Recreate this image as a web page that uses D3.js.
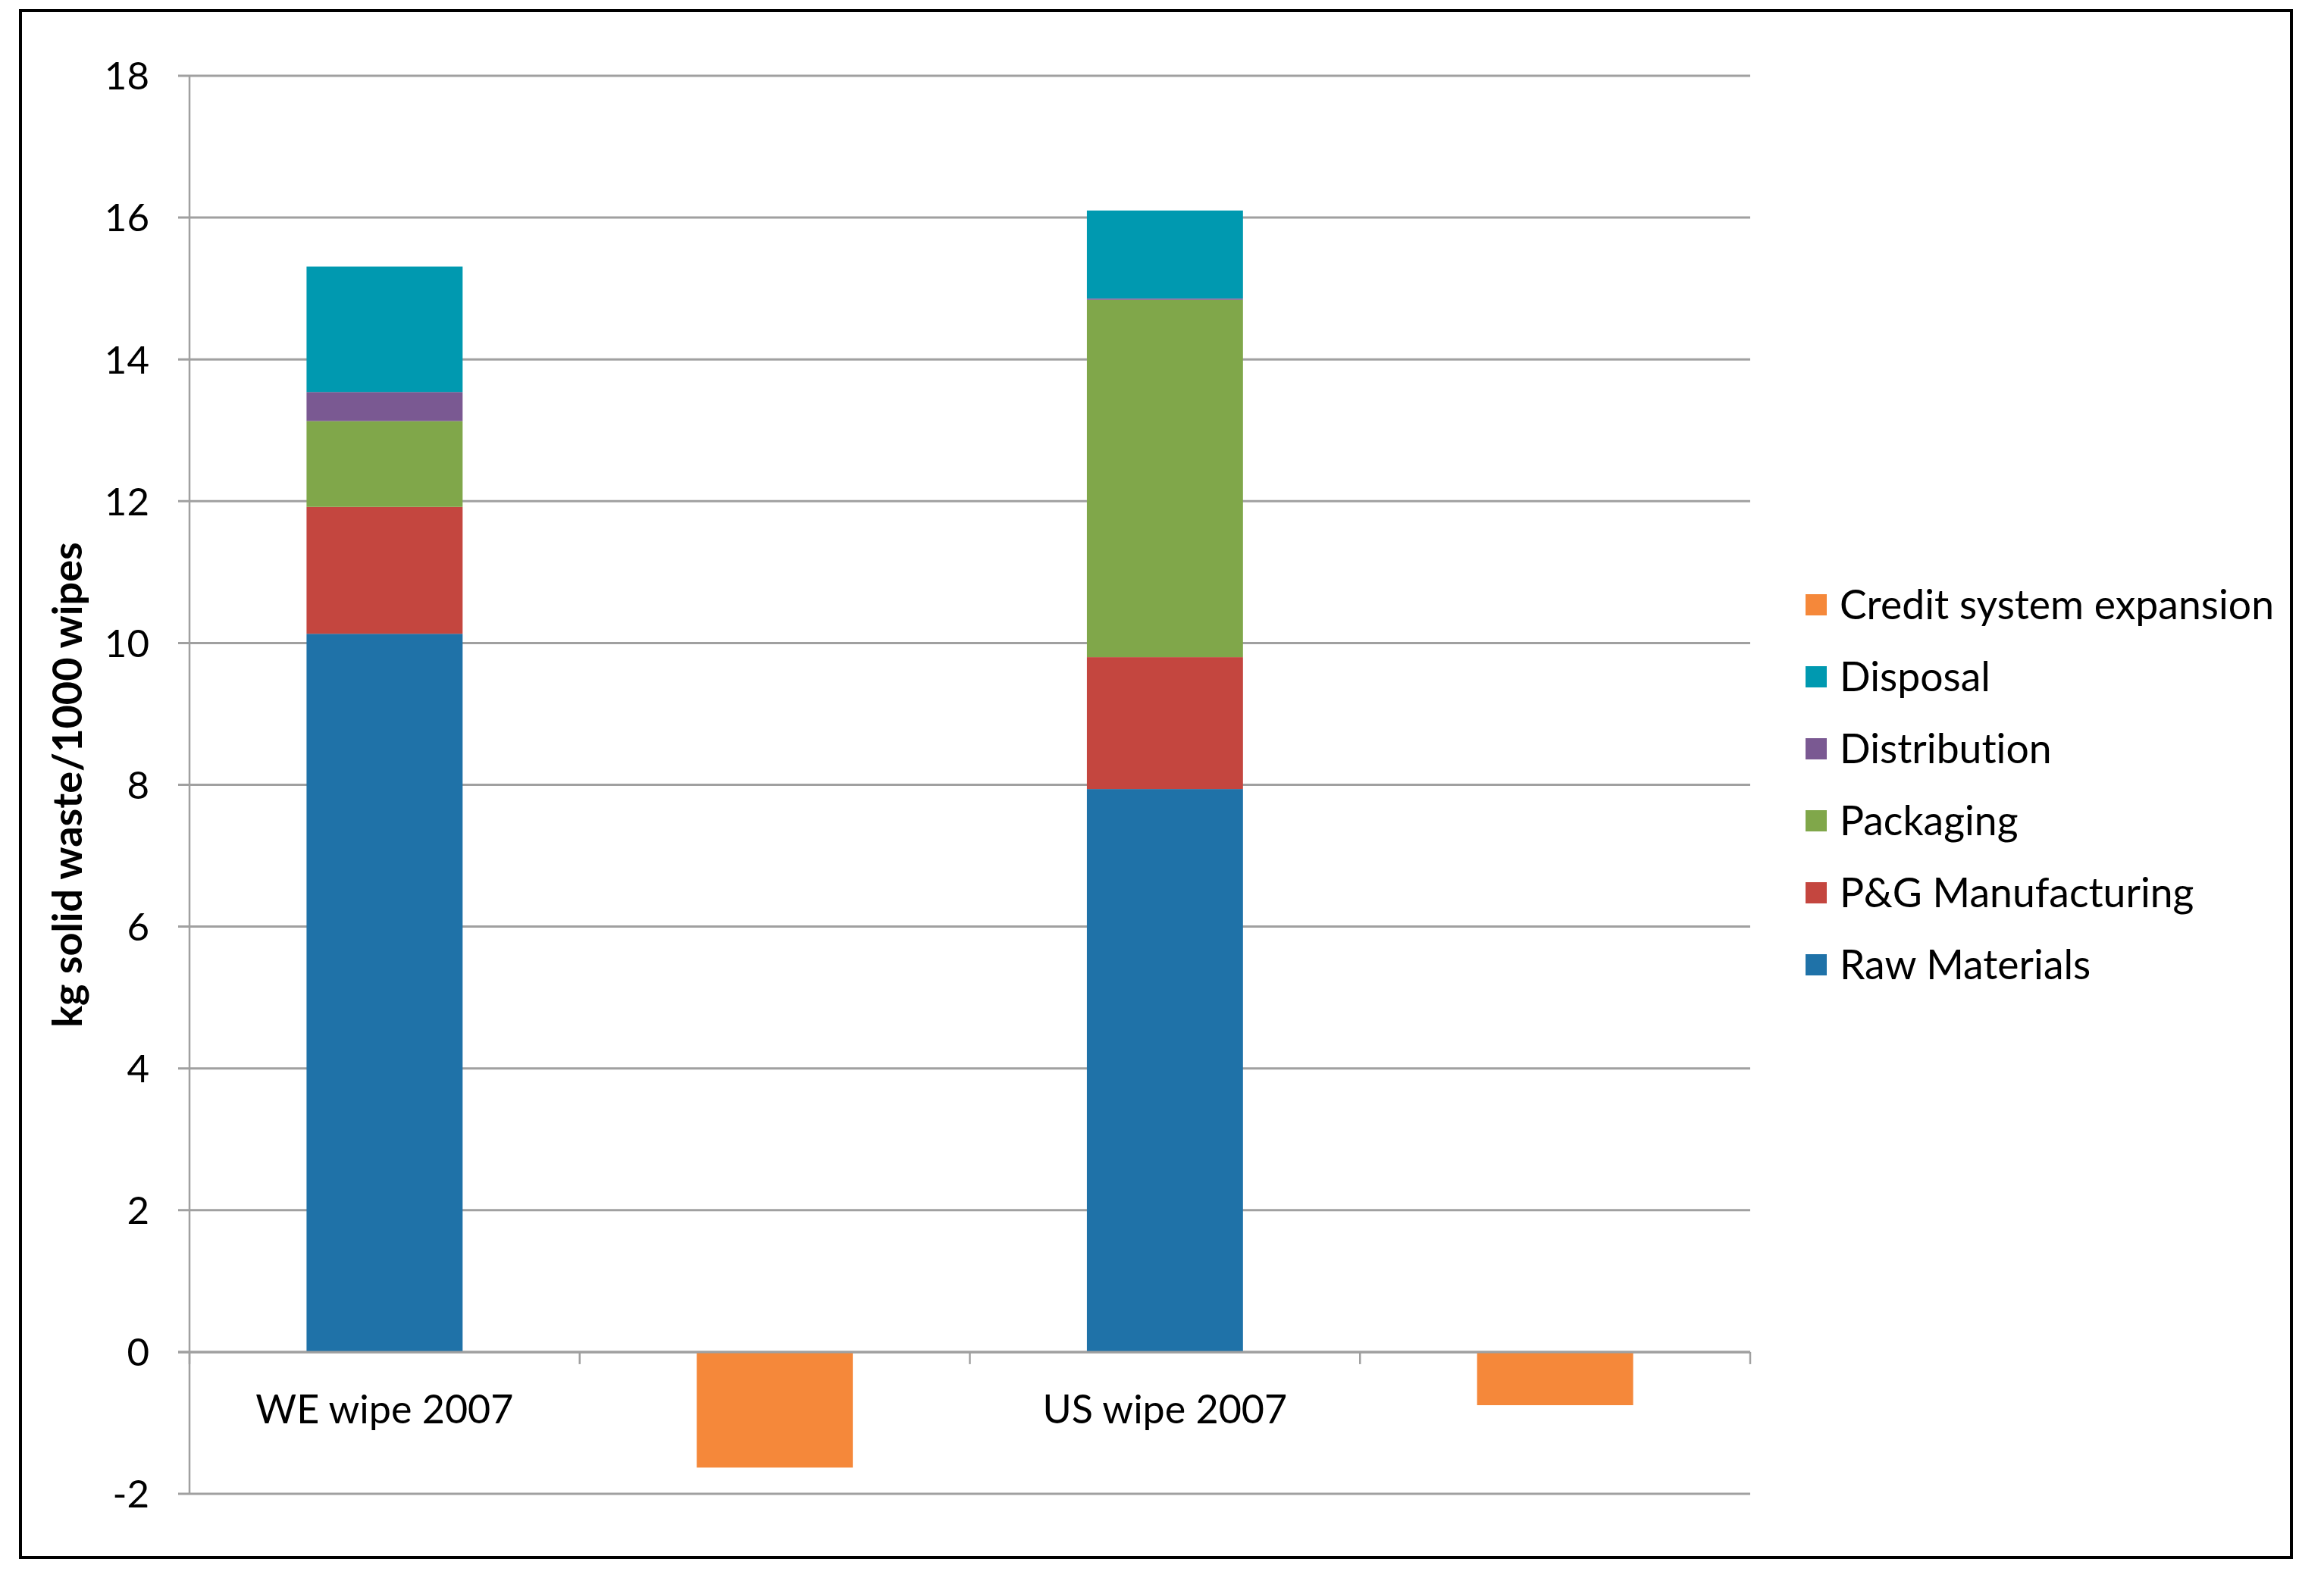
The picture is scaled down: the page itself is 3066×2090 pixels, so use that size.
<!DOCTYPE html>
<html>
<head>
<meta charset="utf-8">
<script src="https://cdn.jsdelivr.net/npm/d3@7"></script>
<style>
  html, body { margin: 0; padding: 0; background: #ffffff; }
  svg { display: block; }
  text { font-family: Lato, "Open Sans", sans-serif; fill: #000; font-variant-ligatures: none; }
</style>
</head>
<body>
<svg id="chart" width="3066" height="2090"></svg>
<script>
// ---- data ----
const categories = ["WE wipe 2007", "WE credit", "US wipe 2007", "US credit"];
const categoryLabels = ["WE wipe 2007", "", "US wipe 2007", ""];
const seriesNames = ["Raw Materials", "P&G Manufacturing", "Packaging", "Distribution", "Disposal", "Credit system expansion"];
const rawMaterials = [10.13, 0, 7.94, 0];
const pgManufacturing = [1.79, 0, 1.86, 0];
const packaging = [1.21, 0, 5.04, 0];
const distribution = [0.41, 0, 0.02, 0];
const disposal = [1.77, 0, 1.24, 0];
const creditSystemExpansion = [0, -1.63, 0, -0.75];
const yTicks = [-2, 0, 2, 4, 6, 8, 10, 12, 14, 16, 18];
const yTickLabels = ["-2", "0", "2", "4", "6", "8", "10", "12", "14", "16", "18"];
const legendOrder = ["Credit system expansion", "Disposal", "Distribution", "Packaging", "P&G Manufacturing", "Raw Materials"];
const colors = {
  "Raw Materials": "#1f72a8",
  "P&G Manufacturing": "#c4463f",
  "Packaging": "#80a74a",
  "Distribution": "#7a5992",
  "Disposal": "#0099b0",
  "Credit system expansion": "#f5883a"
};

// ---- table ----
const seriesValues = [rawMaterials, pgManufacturing, packaging, distribution, disposal, creditSystemExpansion];
const table = categories.map((c, i) => {
  const row = { category: c };
  seriesNames.forEach((s, k) => row[s] = seriesValues[k][i]);
  return row;
});

const svg = d3.select("#chart");

// frame
svg.append("rect").attr("x", 27).attr("y", 14).attr("width", 2996).attr("height", 2041)
  .attr("fill", "#fff").attr("stroke", "#000").attr("stroke-width", 4);

const x = d3.scaleBand().domain(categories).range([250, 2309]).paddingInner(0).paddingOuter(0);
const y = d3.scaleLinear().domain([-2, 18]).range([1971, 100]);

const gridColor = "#a0a0a0";

// gridlines + y ticks
const yAxis = svg.append("g").attr("transform", "translate(250,0)")
  .call(d3.axisLeft(y).tickValues(yTicks).tickSize(15).tickFormat((d, i) => yTickLabels[i]));
yAxis.select(".domain").remove();
yAxis.selectAll(".tick line").remove();
yAxis.selectAll(".tick text").attr("x", -53).attr("font-size", 51).attr("font-family", "Lato, sans-serif").attr("fill", "#000").attr("dy", "0.35em");

svg.append("g").selectAll("line").data(yTicks).join("line")
  .attr("x1", 235).attr("x2", 2309)
  .attr("y1", d => y(d)).attr("y2", d => y(d))
  .attr("stroke", gridColor).attr("stroke-width", 3);

// y axis line
svg.append("line").attr("x1", 250).attr("x2", 250).attr("y1", y(18)).attr("y2", y(-2))
  .attr("stroke", gridColor).attr("stroke-width", 2.5);

// bars
const stack = d3.stack().keys(seriesNames).offset(d3.stackOffsetDiverging);
const stacked = stack(table);
const barW = x.bandwidth() / 2.5;
const barOff = (x.bandwidth() - barW) / 2;

svg.append("g").selectAll("g").data(stacked).join("g")
  .attr("fill", d => colors[d.key])
  .selectAll("rect").data(d => d.filter(p => p[1] !== p[0])).join("rect")
  .attr("x", d => x(d.data.category) + barOff)
  .attr("width", barW)
  .attr("y", d => y(Math.max(d[0], d[1])))
  .attr("height", d => Math.abs(y(d[0]) - y(d[1])));

// category axis at 0
const xAxis = svg.append("g").attr("transform", `translate(0,${y(0)})`);
xAxis.append("line").attr("x1", 235).attr("x2", 2309).attr("y1", 0).attr("y2", 0)
  .attr("stroke", gridColor).attr("stroke-width", 3);
const boundaries = categories.map(c => x(c) + x.bandwidth()).concat([x(categories[0])]);
xAxis.selectAll("line.tk").data(boundaries).join("line").attr("class", "tk")
  .attr("x1", d => d).attr("x2", d => d).attr("y1", 0).attr("y2", 16)
  .attr("stroke", gridColor).attr("stroke-width", 2.5);
xAxis.selectAll("text").data(categories).join("text")
  .attr("x", d => x(d) + x.bandwidth() / 2)
  .attr("y", 94)
  .attr("text-anchor", "middle")
  .attr("font-size", 52)
  .text((d, i) => categoryLabels[i]);

// y axis title
svg.append("text")
  .attr("transform", `translate(108,${(y(18) + y(-2)) / 2}) rotate(-90)`)
  .attr("text-anchor", "middle")
  .attr("font-size", 54)
  .attr("font-weight", "bold")
  .text("kg solid waste/1000 wipes");

// legend
const legend = svg.append("g");
const lg = legend.selectAll("g").data(legendOrder).join("g")
  .attr("transform", (d, i) => `translate(2382,${798 + i * 95})`);
lg.append("rect").attr("x", 0).attr("y", -14).attr("width", 28).attr("height", 28)
  .attr("fill", d => colors[d]);
lg.append("text").attr("x", 45).attr("y", 0).attr("dy", "0.35em")
  .attr("font-size", 53.5).text(d => d);
</script>
</body>
</html>
